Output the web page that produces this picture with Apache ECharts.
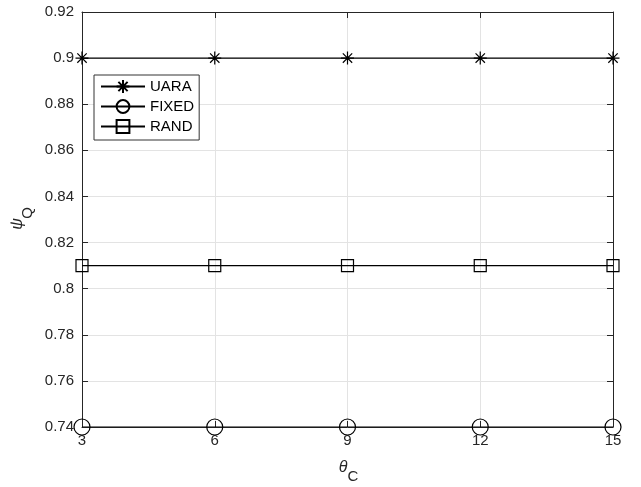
<!DOCTYPE html>
<html><head><meta charset="utf-8">
<script src="https://cdn.jsdelivr.net/npm/echarts@6/dist/echarts.min.js"></script>
<style>html,body{margin:0;padding:0;background:#fff}#c{width:641px;height:487px}</style>
</head><body><div id="c"></div>
<script>
const xValues = [3, 6, 9, 12, 15];
const uara = [0.90, 0.90, 0.90, 0.90, 0.90];
const fixed = [0.74, 0.74, 0.74, 0.74, 0.74];
const rand = [0.81, 0.81, 0.81, 0.81, 0.81];
const seriesNames = ['UARA', 'FIXED', 'RAND'];

const FONT = '"Liberation Sans", Arial, Helvetica, sans-serif';
const axisCol = '#262626';
const pair = arr => xValues.map((x, i) => [x, arr[i]]);
const star = 'path://M-1,0L1,0M0,-1L0,1M-0.72,-0.72L0.72,0.72M-0.72,0.72L0.72,-0.72';

const chart = echarts.init(document.getElementById('c'));
const baseAxis = {
  axisLine: {show: true, onZero: false, lineStyle: {color: axisCol, width: 1}},
  axisTick: {show: true, inside: true, length: 6, lineStyle: {color: axisCol}},
  splitLine: {show: false}
};
const txt = (s, x, y, font) => ({type: 'text', x: x, y: y,
  style: {text: s, font: font, fill: axisCol, align: 'center', verticalAlign: 'middle'}});
chart.setOption({
  animation: false,
  backgroundColor: '#fff',
  grid: {left: 82, right: 28, top: 12, bottom: 60, outerBoundsMode: 'none'},
  legend: {
    left: 94, top: 75, orient: 'vertical',
    data: seriesNames,
    backgroundColor: '#fff', borderColor: '#333', borderWidth: 1,
    padding: [4, 5, 6, 6], itemGap: 5, itemWidth: 44, itemHeight: 16,
    textStyle: {fontFamily: FONT, fontSize: 15, color: '#000'}
  },
  xAxis: [
    Object.assign({}, baseAxis, {
      type: 'value', min: 3, max: 15, interval: 3, position: 'bottom',
      axisLabel: {fontFamily: FONT, fontSize: 15, color: axisCol, margin: 6},
      splitLine: {show: true, lineStyle: {color: '#e3e3e3', width: 1}}
    }),
    Object.assign({}, baseAxis, {
      type: 'value', min: 3, max: 15, interval: 3, position: 'top',
      axisLabel: {show: false}
    })
  ],
  yAxis: [
    Object.assign({}, baseAxis, {
      type: 'value', min: 0.74, max: 0.92, interval: 0.02, position: 'left',
      axisLabel: {fontFamily: FONT, fontSize: 15, color: axisCol, margin: 8,
        formatter: v => String(+v.toFixed(2))},
      splitLine: {show: true, lineStyle: {color: '#e3e3e3', width: 1}}
    }),
    Object.assign({}, baseAxis, {
      type: 'value', min: 0.74, max: 0.92, interval: 0.02, position: 'right',
      axisLabel: {show: false}
    })
  ],
  graphic: [
    txt('θ', 343, 468, 'italic 16px ' + FONT),
    txt('C', 353, 477, '15px ' + FONT),
    {type: 'group', x: 18, y: 224, rotation: Math.PI / 2, children: [
      txt('ψ', 0, 0, 'italic 16px ' + FONT),
      txt('Q', 11, 10, '15px ' + FONT)
    ]}
  ],
  series: [
    {name: 'UARA', type: 'line', data: pair(uara), symbol: star, symbolSize: 13,
      lineStyle: {color: '#000', width: 1.2},
      itemStyle: {color: '#000', borderColor: '#000', borderWidth: 1.2}},
    {name: 'FIXED', type: 'line', data: pair(fixed), symbol: 'circle', symbolSize: 16,
      lineStyle: {color: '#000', width: 1.2},
      itemStyle: {color: 'rgba(255,255,255,0)', borderColor: '#000', borderWidth: 1.2}},
    {name: 'RAND', type: 'line', data: pair(rand), symbol: 'rect', symbolSize: 12,
      lineStyle: {color: '#000', width: 1.2},
      itemStyle: {color: 'rgba(255,255,255,0)', borderColor: '#000', borderWidth: 1.2}}
  ]
});
</script></body></html>
